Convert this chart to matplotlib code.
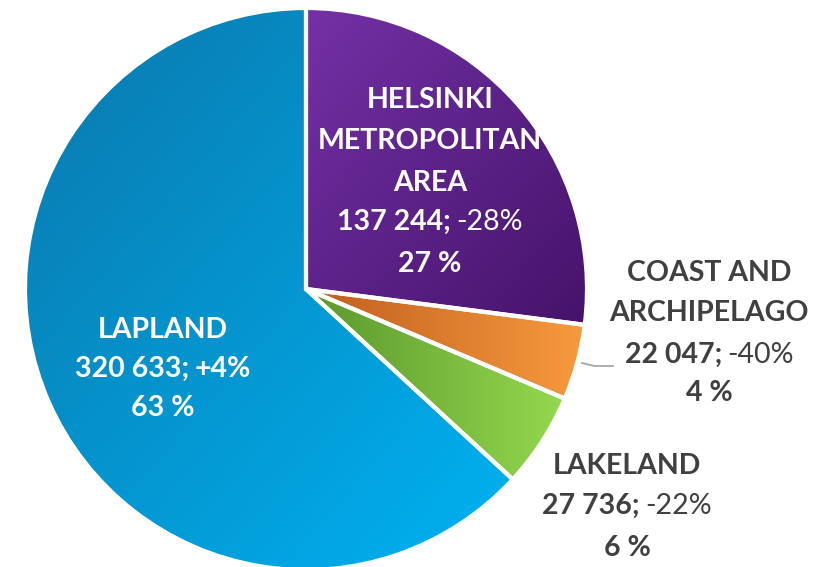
import matplotlib
matplotlib.use("Agg")
import matplotlib.pyplot as plt
import numpy as np
from matplotlib.colors import LinearSegmentedColormap

regions = ["HELSINKI\nMETROPOLITAN\nAREA", "COAST AND\nARCHIPELAGO", "LAKELAND", "LAPLAND"]
values = [137244, 22047, 27736, 320633]
value_labels = ["137 244;", "22 047;", "27 736;", "320 633;"]
changes = ["-28%", "-40%", "-22%", "+4%"]
change_weights = ["normal", "normal", "normal", "bold"]
shares = ["27 %", "4 %", "6 %", "63 %"]

W, H = 836, 567
CX, CY, R = 306, 289, 281  # pixel geometry (y from top)

fig = plt.figure(figsize=(W / 100, H / 100), dpi=100)
ax = fig.add_axes([0, 0, 1, 1])
ax.axis("off")

wedges, _ = ax.pie(values, startangle=90, counterclock=False, radius=1.0,
                   colors=["none"] * 4, wedgeprops=dict(linewidth=0))
ax.set_aspect("auto")

grads = [
    ("diag", "#7431A6", "#45136A"),
    ("horiz", "#BF5E1E", "#F89A3E"),
    ("horiz", "#5A972C", "#94D94E"),
    ("diag", "#0A78AC", "#00B2F2"),
]

for w, (kind, c0, c1) in zip(wedges, grads):
    cmap = LinearSegmentedColormap.from_list("g", [c0, c1])
    bb = w.get_path().get_extents(w.get_patch_transform())
    n = 256
    xs = np.linspace(0, 1, n)
    ys = np.linspace(0, 1, n)
    X, Y = np.meshgrid(xs, ys)
    if kind == "diag":
        Z = (X + (1 - Y)) / 2.0
    else:
        Z = X
    im = ax.imshow(Z, cmap=cmap, extent=[bb.x0, bb.x1, bb.y0, bb.y1],
                   origin="lower", aspect="auto", interpolation="bilinear", zorder=1)
    im.set_clip_path(w)
    w.set_facecolor("none")
    w.set_edgecolor("white")
    w.set_linewidth(3)
    w.set_zorder(3)

ax.set_xlim(-CX / R, (W - CX) / R)
ax.set_ylim(-(H - CY) / R, CY / R)

FONT = "Lato"
FS = 20.5


def d(px, py):
    return ((px - CX) / R, (CY - py) / R)


renderer = fig.canvas.get_renderer()


def line_text(px, py, parts, color):
    widths = []
    objs = []
    for s, wt in parts:
        t = ax.text(0, 0, s, fontsize=FS, fontweight=wt, family=FONT, color=color,
                    ha="left", va="center", zorder=5)
        bb = t.get_window_extent(renderer=renderer)
        widths.append(bb.width)
        objs.append(t)
    space = 5 if len(parts) > 1 else 0
    total = sum(widths) + space * (len(parts) - 1)
    x = px - total / 2
    for t, wdt in zip(objs, widths):
        t.set_position(d(x, py))
        x += wdt + space


def block(px, ys, name_lines, vlabel, change, cw, share, color):
    i = 0
    for nl in name_lines:
        line_text(px, ys[i], [(nl, "bold")], color)
        i += 1
    line_text(px, ys[i], [(vlabel, "bold"), (change, cw)], color)
    i += 1
    line_text(px, ys[i], [(share, "bold")], color)


white = "white"
grey = "#404040"

block(430, [100, 141, 183, 222, 264], regions[0].split("\n"), value_labels[0], changes[0], change_weights[0], shares[0], white)
block(709, [273, 313, 355, 393], regions[1].split("\n"), value_labels[1], changes[1], change_weights[1], shares[1], grey)
block(627, [466, 506, 548], regions[2].split("\n"), value_labels[2], changes[2], change_weights[2], shares[2], grey)
block(163, [330, 369, 408], regions[3].split("\n"), value_labels[3], changes[3], change_weights[3], shares[3], white)

x0, y0 = d(582, 363)
x1, y1 = d(613, 366)
ax.plot([x0, x0 + (x1 - x0) * 0.4, x1], [y0, y1, y1], color="#A6A6A6", lw=1.3, zorder=4)

fig.savefig("out.png", dpi=100)
